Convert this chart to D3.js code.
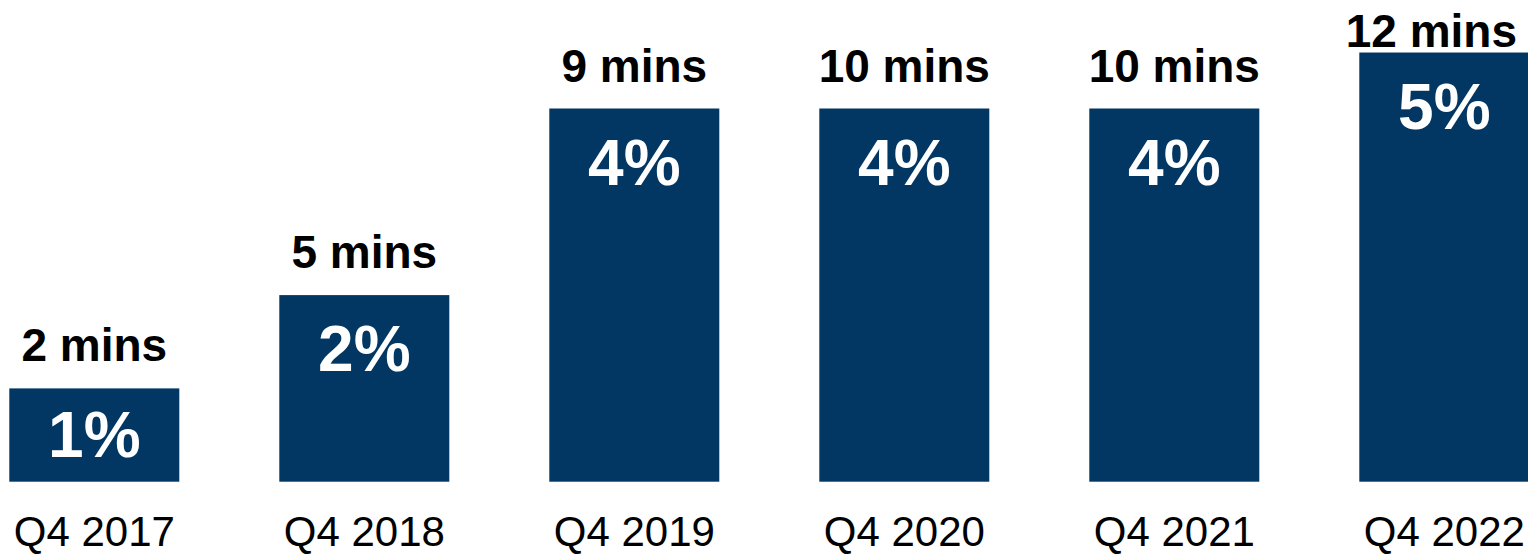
<!DOCTYPE html>
<html>
<head>
<meta charset="utf-8">
<script src="https://cdn.jsdelivr.net/npm/d3@7"></script>
<style>
  html, body { margin: 0; padding: 0; background: #fff; }
  svg { display: block; }
  text { font-family: "Century Gothic", "Liberation Sans", Arial, sans-serif; }
</style>
</head>
<body>
<svg id="chart" width="1528" height="555"></svg>
<script>
// Quarterly share (%) and average minutes per period
const categories = ["Q4 2017", "Q4 2018", "Q4 2019", "Q4 2020", "Q4 2021", "Q4 2022"];
const shareValues = [1, 2, 4, 4, 4, 4.6];
const minutesValues = [2, 5, 9, 10, 10, 12];

const width = 1528, height = 555;
const baseY = 481.7;
const barColor = "#023663";

const svg = d3.select("#chart");

const x = d3.scaleBand()
  .domain(categories)
  .range([-40.7, 1579.3])
  .paddingInner(100 / 270)
  .paddingOuter(50 / 270);

const y = d3.scaleLinear()
  .domain([0, 5])
  .range([baseY, baseY - 466.5]);

const pct = d => d3.format(".0f")(d) + "%";

const g = svg.append("g");

// Bars
g.selectAll("rect.bar")
  .data(categories)
  .join("rect")
  .attr("class", "bar")
  .attr("x", d => x(d))
  .attr("width", x.bandwidth())
  .attr("y", (d, i) => y(shareValues[i]))
  .attr("height", (d, i) => y(0) - y(shareValues[i]))
  .attr("fill", barColor);

// Percentage labels inside the bars
g.selectAll("text.pct")
  .data(categories)
  .join("text")
  .attr("class", "pct")
  .attr("x", d => x(d) + x.bandwidth() / 2)
  .attr("y", (d, i) => Math.min(y(shareValues[i]) + 76, baseY - 25))
  .attr("text-anchor", "middle")
  .attr("fill", "#fff")
  .attr("font-weight", "bold")
  .attr("font-size", 64)
  .text((d, i) => pct(shareValues[i]));

// Minutes labels above the bars, kept inside the canvas
g.selectAll("text.mins")
  .data(categories)
  .join("text")
  .attr("class", "mins")
  .attr("x", d => x(d) + x.bandwidth() / 2)
  .attr("y", (d, i) => Math.max(y(shareValues[i]) - 27, 47))
  .attr("text-anchor", "middle")
  .attr("fill", "#000")
  .attr("font-weight", "bold")
  .attr("font-size", 46)
  .text((d, i) => minutesValues[i] + " mins")
  .each(function (d) {
    const w = this.getComputedTextLength();
    const cx = x(d) + x.bandwidth() / 2;
    const maxCx = width - 11 - w / 2;
    if (cx > maxCx) d3.select(this).attr("x", maxCx);
  });

// Category axis (labels only)
const xAxis = d3.axisBottom(x).tickSize(0).tickPadding(0);
const axisG = svg.append("g")
  .attr("transform", `translate(0, ${baseY})`)
  .call(xAxis);
axisG.select(".domain").remove();
axisG.selectAll("text")
  .attr("dy", null)
  .attr("y", 64)
  .attr("fill", "#000")
  .attr("font-size", 42)
  .style("font-family", "'Century Gothic', 'Liberation Sans', Arial, sans-serif");
</script>
</body>
</html>
